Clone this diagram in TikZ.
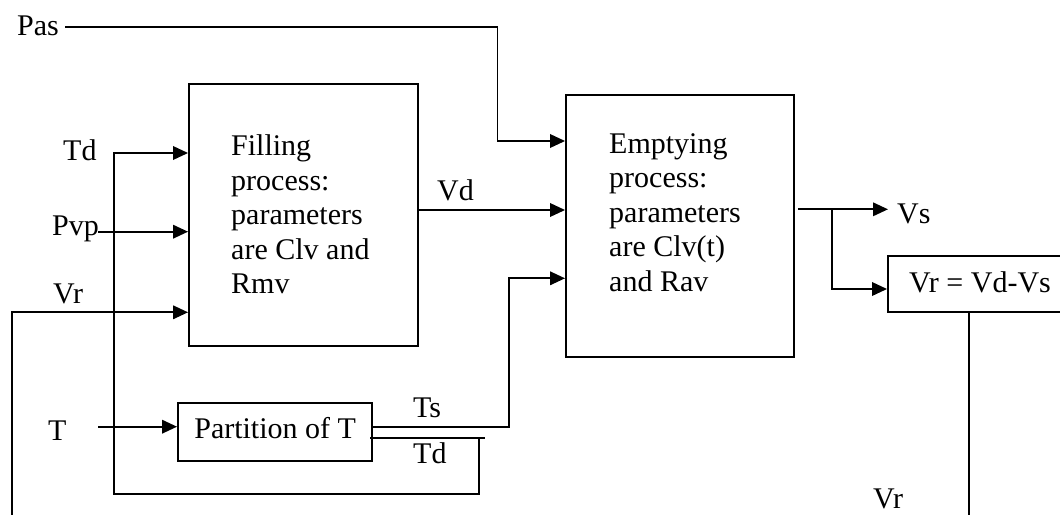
\documentclass[tikz,border=0pt]{standalone}
\usepackage{fontspec}
\setmainfont{Liberation Serif}
\usetikzlibrary{arrows.meta}
\tikzset{
  ln/.style={line width=1.9pt},
  arr/.style={ln,-{Triangle[length=15pt,width=13.5pt]}},
  blk/.style={draw,line width=1.9pt,inner sep=0pt},
  lbl/.style={inner sep=0pt,anchor=base west},
  btxt/.style={inner sep=0pt,anchor=north west,align=left},
}
\begin{document}
\begin{tikzpicture}[x=1pt,y=-1pt,font=\fontsize{30}{34.5}\selectfont]
\clip (0,0) rectangle (1060,514);
\fill[white] (0,0) rectangle (1060,514);
% blocks
\node[blk,minimum width=229pt,minimum height=262pt] (F) at (303.5,215) {};
\node[blk,minimum width=228pt,minimum height=262pt] (E) at (680,226) {};
\node[blk,minimum width=194.3pt,minimum height=58pt,text height=20.5pt,text depth=7.9pt] (P) at (275.15,431.7) {Partition of T};
\node[blk,minimum width=184pt,minimum height=56.6pt,text height=20.5pt,text depth=3pt] (R) at (980,284) {Vr = Vd-Vs};
\node[btxt] (Ftxt) at (231,134.5) {Filling\\process:\\parameters\\are Clv and\\Rmv};
\node[btxt] (Etxt) at (609,133.3) {Emptying\\process:\\parameters\\are Clv(t)\\and Rav};
% labels
\node[lbl] (lPas) at (17,35) {Pas};
\node[lbl] (lTd) at (63,160) {Td};
\node[lbl] (lPvp) at (52,235) {Pvp};
\node[lbl] (lVr) at (53,303) {Vr};
\node[lbl] (lT) at (48,440) {T};
\node[lbl] (lVd) at (437,200) {Vd};
\node[lbl] (lTs) at (413,417.7) {Ts};
\node[lbl] (lTd2) at (413,463) {Td};
\node[lbl] (lVs) at (897,223) {Vs};
\node[lbl] (lVr2) at (873,508) {Vr};
% coordinates
\coordinate (cPas) at (65,27);
\coordinate (cPasV) at (497.5,27);
\coordinate (cPvp) at (98,231.7);
\coordinate (cVrB) at (12,520);
\coordinate (cT) at (98,426.7);
\coordinate (cTdA) at (370,437.7);
\coordinate (cTdB) at (485,437.7);
\coordinate (cTdC) at (479,437.7);
\coordinate (cLoop) at (114,494);
\coordinate (cTsV) at (509,426.7);
\coordinate (cVs0) at (798,209.3);
\coordinate (cVsBr) at (831.7,209.3);
\coordinate (cRB) at (969,520);
% connectors
\draw[arr] (cPas) -- (cPasV) |- (E.west |- 0,141);
\draw[arr] (cTdC) |- (cLoop) |- (F.west |- 0,153);
\draw[ln] (cTdA) -- (cTdB);
\draw[arr] (cPvp) -- (F.west |- cPvp);
\draw[arr] (cVrB) |- (F.west |- 0,312.3);
\draw[arr] (cT) -- (P.west |- cT);
\draw[arr] (P.east |- cT) -- (cTsV) |- (E.west |- 0,278.3);
\draw[arr] (F.east |- 0,210) -- (E.west |- 0,210);
\draw[arr] (cVs0) -- (888,209.3);
\draw[arr] (cVsBr) |- (R.west |- 0,289);
\draw[ln] (R.south -| 969,0) -- (cRB);
\end{tikzpicture}
\end{document}
